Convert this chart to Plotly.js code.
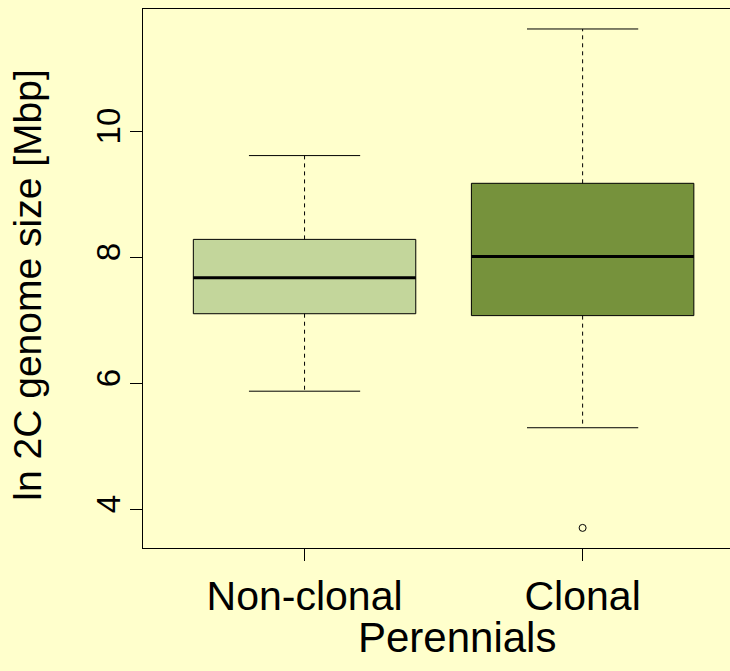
<!DOCTYPE html>
<html>
<head>
<meta charset="utf-8">
<script src="https://cdn.plot.ly/plotly-3.0.1.min.js"></script>
<style>html,body{margin:0;padding:0;background:#FFFFCC;}</style>
</head>
<body>
<div id="chart" style="width:730px;height:671px;"></div>
<script>
// Data
const categories = ["Non-clonal", "Clonal"];
const positions = [1, 2];
const lowerWhisker = [5.87, 5.29];
const q1 = [7.10, 7.07];
const median = [7.67, 8.01];
const q3 = [8.28, 9.17];
const upperWhisker = [9.61, 11.62];
const outlierX = [2];
const outlierY = [3.70];
const fillColors = ["#C3D69B", "#76923C"];

const boxHalf = 0.4, capHalf = 0.2;
const traces = [];
positions.forEach((p, i) => {
  traces.push({
    type: "scatter", mode: "lines", fill: "toself", fillcolor: fillColors[i],
    x: [p - boxHalf, p + boxHalf, p + boxHalf, p - boxHalf, p - boxHalf],
    y: [q1[i], q1[i], q3[i], q3[i], q1[i]],
    line: {color: "#000", width: 1}, hoverinfo: "skip", showlegend: false
  });
  traces.push({
    type: "scatter", mode: "lines",
    x: [p - boxHalf, p + boxHalf], y: [median[i], median[i]],
    line: {color: "#000", width: 3}, hoverinfo: "skip", showlegend: false
  });
  traces.push({
    type: "scatter", mode: "lines",
    x: [p, p, null, p, p], y: [q3[i], upperWhisker[i], null, q1[i], lowerWhisker[i]],
    line: {color: "#000", width: 1, dash: "4px,4px"}, hoverinfo: "skip", showlegend: false
  });
  traces.push({
    type: "scatter", mode: "lines",
    x: [p - capHalf, p + capHalf, null, p - capHalf, p + capHalf],
    y: [upperWhisker[i], upperWhisker[i], null, lowerWhisker[i], lowerWhisker[i]],
    line: {color: "#000", width: 1}, hoverinfo: "skip", showlegend: false
  });
});
traces.push({
  type: "scatter", mode: "markers", x: outlierX, y: outlierY,
  marker: {symbol: "circle-open", size: 7, color: "#000", line: {width: 1, color: "#000"}},
  hoverinfo: "skip", showlegend: false
});

const font = "Liberation Sans, Arial, sans-serif";
const layout = {
  width: 730, height: 671,
  paper_bgcolor: "#FFFFCC", plot_bgcolor: "#FFFFCC",
  margin: {l: 143, r: 0, t: 9, b: 123},
  showlegend: false,
  font: {family: font, color: "#000"},
  xaxis: {
    range: [0.419, 2.53], tickvals: positions, ticktext: categories,
    showgrid: false, zeroline: false, showline: true, mirror: true,
    linecolor: "#000", linewidth: 1, ticks: "outside", ticklen: 12, tickcolor: "#000",
    tickfont: {size: 41, family: font}
  },
  yaxis: {
    range: [3.381, 11.937], tickvals: [4, 6, 8, 10], ticktext: ["4", "6", "8", "10"],
    showgrid: false, zeroline: false, showline: true, mirror: false,
    linecolor: "#000", linewidth: 1, ticks: "outside", ticklen: 12, tickcolor: "#000",
    tickangle: -90, tickfont: {size: 33, family: font}, ticklabelstandoff: -3
  },
  annotations: [{
    text: "Perennials", xref: "paper", yref: "paper", x: 0.535, y: 0,
    xanchor: "center", yanchor: "top", yshift: -64, showarrow: false,
    font: {size: 42, family: font}
  }, {
    text: "ln 2C genome size [Mbp]", xref: "paper", yref: "paper", x: -0.196, y: 0.4885,
    xanchor: "center", yanchor: "middle", textangle: -90, showarrow: false,
    font: {size: 39, family: font}
  }]
};
Plotly.newPlot("chart", traces, layout, {displayModeBar: false, staticPlot: true});
</script>
</body>
</html>
